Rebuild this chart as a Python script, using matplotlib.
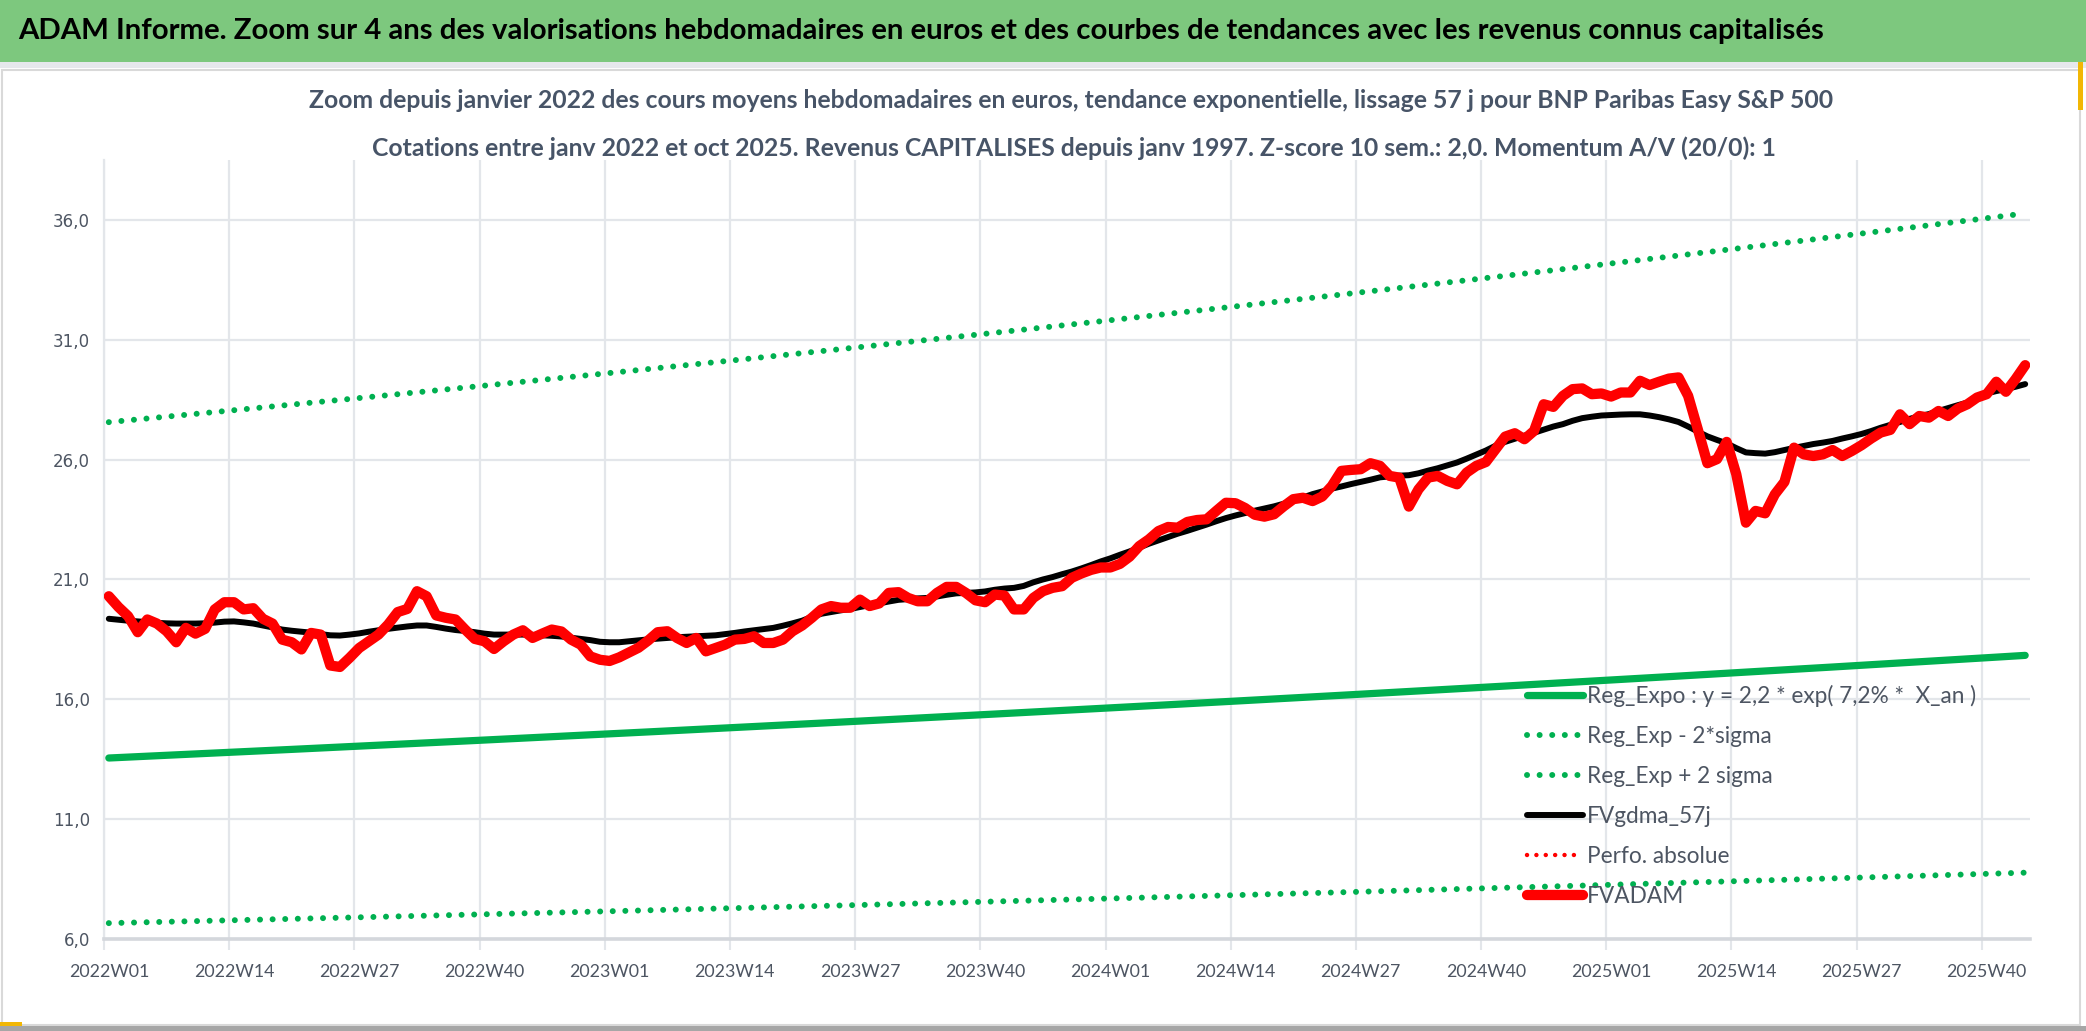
import numpy as np
import matplotlib
matplotlib.use("Agg")
import matplotlib.pyplot as plt
from matplotlib.patches import Rectangle

# ---------------- data ----------------
years = [2022, 2023, 2024, 2025]
weeks_per_year = [52, 52, 52, 44]
categories = [f"{y}W{w:02d}" for y, n in zip(years, weeks_per_year) for w in range(1, n + 1)]

tick_labels = ["2022W01", "2022W14", "2022W27", "2022W40", "2023W01", "2023W14", "2023W27",
               "2023W40", "2024W01", "2024W14", "2024W27", "2024W40", "2025W01", "2025W14",
               "2025W27", "2025W40"]
y_ticks = [6, 11, 16, 21, 26, 31, 36]

fvadam = [
    20.30, 19.85, 19.47, 18.80, 19.33, 19.16, 18.84, 18.38, 18.98, 18.74,
    18.94, 19.75, 20.05, 20.05, 19.75, 19.80, 19.36, 19.16, 18.49, 18.38,
    18.08, 18.77, 18.70, 17.41, 17.35, 17.73, 18.14, 18.42, 18.70, 19.12,
    19.64, 19.77, 20.51, 20.30, 19.50, 19.40, 19.33, 18.91, 18.52, 18.42,
    18.10, 18.42, 18.70, 18.88, 18.56, 18.74, 18.91, 18.83, 18.49, 18.28,
    17.79, 17.65, 17.60, 17.75, 17.95, 18.15, 18.45, 18.80, 18.84, 18.56,
    18.35, 18.56, 18.00, 18.14, 18.28, 18.49, 18.52, 18.63, 18.35, 18.35,
    18.49, 18.84, 19.08, 19.40, 19.75, 19.89, 19.82, 19.82, 20.16, 19.89,
    20.00, 20.44, 20.47, 20.23, 20.09, 20.09, 20.44, 20.69, 20.69, 20.44,
    20.13, 20.05, 20.37, 20.33, 19.75, 19.75, 20.23, 20.51, 20.65, 20.72,
    21.07, 21.25, 21.40, 21.50, 21.50, 21.65, 21.95, 22.39, 22.67, 23.02,
    23.19, 23.16, 23.40, 23.48, 23.51, 23.86, 24.20, 24.18, 23.98, 23.70,
    23.62, 23.72, 24.05, 24.35, 24.41, 24.27, 24.46, 24.90, 25.53, 25.57,
    25.60, 25.85, 25.74, 25.32, 25.25, 24.04, 24.76, 25.25, 25.32, 25.11,
    24.97, 25.46, 25.74, 25.90, 26.43, 26.96, 27.10, 26.85, 27.20, 28.31,
    28.20, 28.66, 28.94, 28.97, 28.73, 28.76, 28.63, 28.80, 28.80, 29.29,
    29.11, 29.25, 29.38, 29.43, 28.66, 27.27, 25.85, 26.02, 26.74, 25.39,
    23.37, 23.86, 23.76, 24.55, 25.07, 26.50, 26.22, 26.15, 26.22, 26.40,
    26.15, 26.36, 26.60, 26.88, 27.13, 27.24, 27.89, 27.48, 27.82, 27.75,
    28.03, 27.82, 28.13, 28.31, 28.59, 28.73, 29.25, 28.83, 29.36, 29.94,
]

fvgdma_57j = [
    19.36, 19.32, 19.28, 19.25, 19.22, 19.19, 19.17, 19.16, 19.16, 19.16,
    19.17, 19.20, 19.24, 19.25, 19.21, 19.16, 19.08, 19.00, 18.91, 18.86,
    18.82, 18.78, 18.72, 18.67, 18.66, 18.70, 18.75, 18.82, 18.88, 18.94,
    18.99, 19.04, 19.08, 19.08, 19.02, 18.95, 18.89, 18.85, 18.80, 18.74,
    18.70, 18.70, 18.70, 18.70, 18.69, 18.67, 18.65, 18.62, 18.57, 18.52,
    18.47, 18.40, 18.38, 18.38, 18.42, 18.46, 18.50, 18.53, 18.56, 18.59,
    18.61, 18.63, 18.65, 18.67, 18.72, 18.77, 18.83, 18.88, 18.93, 18.98,
    19.07, 19.17, 19.28, 19.44, 19.57, 19.64, 19.71, 19.77, 19.85, 19.93,
    20.00, 20.08, 20.15, 20.18, 20.21, 20.23, 20.29, 20.36, 20.42, 20.44,
    20.46, 20.50, 20.57, 20.62, 20.65, 20.73, 20.88, 21.00, 21.10, 21.22,
    21.33, 21.46, 21.60, 21.75, 21.88, 22.03, 22.17, 22.33, 22.49, 22.63,
    22.77, 22.91, 23.03, 23.16, 23.29, 23.43, 23.56, 23.67, 23.77, 23.87,
    23.96, 24.05, 24.16, 24.29, 24.42, 24.56, 24.67, 24.79, 24.88, 24.98,
    25.07, 25.16, 25.26, 25.30, 25.33, 25.35, 25.43, 25.54, 25.64, 25.76,
    25.88, 26.04, 26.21, 26.38, 26.58, 26.74, 26.87, 27.00, 27.12, 27.25,
    27.38, 27.48, 27.62, 27.73, 27.79, 27.84, 27.86, 27.88, 27.89, 27.89,
    27.84, 27.77, 27.68, 27.57, 27.38, 27.17, 26.97, 26.82, 26.68, 26.48,
    26.30, 26.27, 26.25, 26.31, 26.40, 26.49, 26.57, 26.65, 26.71, 26.78,
    26.88, 26.97, 27.07, 27.19, 27.33, 27.45, 27.57, 27.70, 27.81, 27.90,
    28.03, 28.15, 28.27, 28.38, 28.58, 28.76, 28.86, 28.94, 29.04, 29.15,
]

# exponential regression shown in legend: y = 2,2 * exp(7,2% * X_an), X_an = years since origin
reg_coef = 2.2
reg_rate = 0.072
x_an_start = 25.25          # X_an of first week (2022W01)
weeks_per_an = 52.18
two_sigma = 0.71            # band half-width in log space

# ---------------- figure ----------------
W, H = 2086, 1031
fig = plt.figure(figsize=(W / 100, H / 100), dpi=100)
fig.patch.set_facecolor("white")
renderer = fig.canvas.get_renderer()

FONT = ["Lato", "DejaVu Sans"]


def fit_width(t, target_px):
    w = t.get_window_extent(renderer).width
    t.set_fontsize(t.get_fontsize() * target_px / w)
    return t


def size_for(text, target_px, weight="normal", base=16):
    t = fig.text(0, 0, text, family=FONT, fontsize=base, fontweight=weight)
    w = t.get_window_extent(renderer).width
    t.remove()
    return base * target_px / w


# banner
banner_h = 62
fig.patches.append(Rectangle((0, 1 - banner_h / H), 1, banner_h / H, transform=fig.transFigure,
                             facecolor="#7DC87E", edgecolor="none", zorder=0))
fig.patches.append(Rectangle((0, 1 - (banner_h + 6) / H), 1, 6 / H, transform=fig.transFigure,
                             facecolor="#E6E8EC", edgecolor="none", zorder=0))
# chart frame
fig.patches.append(Rectangle((2 / W, 6 / H), (W - 8) / W, (H - banner_h - 14) / H,
                             transform=fig.transFigure, facecolor="none",
                             edgecolor="#D9D9D9", lw=1.5, zorder=0))
fig.patches.append(Rectangle((0, 0), 1, 5 / H, transform=fig.transFigure,
                             facecolor="#A6A6A6", edgecolor="none", zorder=0))
fig.patches.append(Rectangle(((W - 8) / W, 1 - 110 / H), 5 / W, 48 / H,
                             transform=fig.transFigure, facecolor="#F2B705", edgecolor="none"))
fig.patches.append(Rectangle((0, 5 / H), 22 / W, 4 / H,
                             transform=fig.transFigure, facecolor="#F2B705", edgecolor="none"))

t = fig.text(18 / W, 1 - 31 / H,
             "ADAM Informe. Zoom sur 4 ans des valorisations hebdomadaires en euros et des courbes de tendances avec les revenus connus capitalisés",
             family=FONT, fontsize=20, fontweight="bold", color="black", ha="left", va="center")
fit_width(t, 1810)

sub_color = "#475467"
t1 = fig.text(1071 / W, 1 - 100 / H,
              "Zoom depuis janvier 2022 des cours moyens hebdomadaires en euros, tendance exponentielle, lissage 57 j pour BNP Paribas Easy S&P 500",
              family=FONT, fontsize=17, fontweight="bold", color=sub_color, ha="center", va="center")
fit_width(t1, 1530)
t2 = fig.text(1074 / W, 1 - 148 / H,
              "Cotations entre janv 2022 et oct 2025. Revenus CAPITALISES depuis janv 1997. Z-score 10 sem.: 2,0. Momentum A/V (20/0): 1",
              family=FONT, fontsize=t1.get_fontsize(), fontweight="bold", color=sub_color,
              ha="center", va="center")

# axes
left, right, bottom, top = 104, 2030, 939, 160
ax = fig.add_axes([left / W, 1 - bottom / H, (right - left) / W, (bottom - top) / H])
ax.set_facecolor("none")

n = len(categories)
x = np.arange(n) + 0.5
x_an = x_an_start + np.arange(n) / weeks_per_an
reg = reg_coef * np.exp(reg_rate * x_an)
reg_lo = reg * np.exp(-two_sigma)
reg_hi = reg * np.exp(two_sigma)

green = "#00B050"
red = "#FF0000"
dot = (0, (0.01, 2.1))
ax.plot(x, reg, color=green, lw=5.2, solid_capstyle="round", zorder=3,
        label="Reg_Expo : y = 2,2 * exp( 7,2% *  X_an )")
ax.plot(x, reg_lo, color=green, lw=4.3, linestyle=dot, dash_capstyle="round", zorder=3,
        label="Reg_Exp - 2*sigma")
ax.plot(x, reg_hi, color=green, lw=4.3, linestyle=dot, dash_capstyle="round", zorder=3,
        label="Reg_Exp + 2 sigma")
ax.plot(x, fvgdma_57j, color="black", lw=4.3, solid_capstyle="round", zorder=4,
        label="FVgdma_57j")
ax.plot([], [], color=red, lw=3.2, linestyle=dot, dash_capstyle="round",
        label="Perfo. absolue")
ax.plot(x, fvadam, color=red, lw=7.4, solid_capstyle="round", solid_joinstyle="round",
        zorder=5, label="FVADAM")

ax.set_xlim(0, n)
ax.set_ylim(6, 38.5)

grid_c = "#E3E6EA"
lab_c = "#4D5562"
ax.set_yticks(y_ticks)
ax.set_yticklabels([f"{v:.1f}".replace(".", ",") for v in y_ticks],
                   fontsize=12, color=lab_c, family="DejaVu Sans")
ax.tick_params(axis="y", length=0, pad=10)

xt_size = size_for("2022W01", 80)
boundaries = [categories.index(tl) for tl in tick_labels]
ax.set_xticks(boundaries)
ax.set_xticklabels([])
ax.set_xticks([b + 0.5 for b in boundaries], minor=True)
ax.set_xticklabels(tick_labels, minor=True, family=FONT, fontsize=xt_size, color=lab_c)
ax.tick_params(axis="x", which="major", length=8, width=1.5, color=grid_c, direction="out")
ax.tick_params(axis="x", which="minor", length=0, pad=18)

ax.grid(True, which="major", color=grid_c, lw=1.6, zorder=0)
for s in ["top", "right"]:
    ax.spines[s].set_visible(False)
ax.spines["left"].set_color(grid_c)
ax.spines["left"].set_linewidth(1.6)
ax.spines["bottom"].set_color("#D4D7DC")
ax.spines["bottom"].set_linewidth(2.6)

leg_size = size_for("Reg_Expo : y = 2,2 * exp( 7,2% *  X_an )", 390)
leg_px = leg_size * 100 / 72
row_pitch = 46
leg = ax.legend(loc="upper left", bbox_to_anchor=(1516 / W, 1 - 674 / H),
                bbox_transform=fig.transFigure, frameon=False, ncol=1,
                prop={"family": FONT, "size": leg_size}, labelcolor=lab_c,
                handlelength=56 / leg_px, handletextpad=4 / leg_px,
                labelspacing=max(0.05, (row_pitch - 1.2 * leg_px) / leg_px), borderpad=0)
leg.set_zorder(6)

fig.savefig("out.png", dpi=100, facecolor="white")
